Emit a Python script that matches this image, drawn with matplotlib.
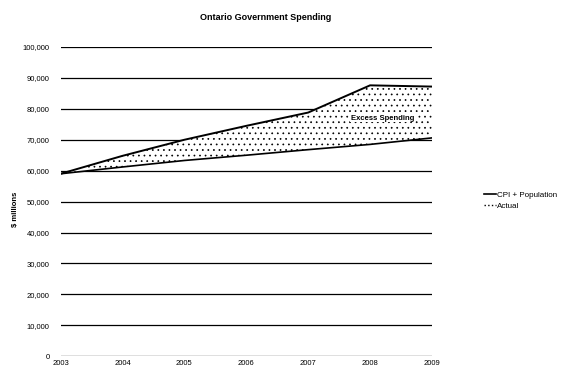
import matplotlib
matplotlib.use('Agg')
import matplotlib.pyplot as plt
from matplotlib.lines import Line2D

years = [2003, 2004, 2005, 2006, 2007, 2008, 2009]
actual = [59000, 64800, 70000, 74500, 78800, 87600, 87200]
cpi_pop = [59000, 61200, 63300, 65000, 66800, 68500, 70600]
yticks = list(range(0, 100001, 10000))

plt.rcParams['font.family'] = ['Liberation Sans', 'DejaVu Sans']
plt.rcParams['hatch.linewidth'] = 0.5

fig = plt.figure(figsize=(5.61, 3.73), dpi=100)
ax = fig.add_axes([0.108, 0.045, 0.662, 0.829])

for y in yticks:
    ax.axhline(y, color='black', lw=0.9, zorder=1)

# dotted band between the two series
ax.fill_between(years, cpi_pop, actual, facecolor='white', edgecolor='black',
                hatch='...', lw=0, zorder=2)
ax.plot(years, actual, color='black', lw=1.4, zorder=3)
ax.plot(years, cpi_pop, color='black', lw=1.2, zorder=3)

ax.text(2008.2, 77000, 'Excess Spending', fontsize=5.5, fontweight='bold',
        ha='center', va='center', zorder=4,
        bbox=dict(facecolor='white', edgecolor='none', pad=0.3))

ax.set_xlim(2003, 2009)
ax.set_ylim(0, 100000)
ax.set_xticks(years)
ax.set_xticklabels([str(y) for y in years], fontsize=5.5)
ax.set_yticks(yticks)
ax.set_yticklabels(['{:,}'.format(v) for v in yticks], fontsize=5.5)
ax.tick_params(length=0, pad=8)
ax.tick_params(axis='x', pad=3)
for s in ax.spines.values():
    s.set_visible(False)

fig.text(0.027, 0.44, '$ millions', fontsize=5.5, fontweight='bold',
         rotation=90, ha='center', va='center')
fig.suptitle('Ontario Government Spending', fontsize=6.5, fontweight='bold',
             x=0.474, y=0.965)

handles = [Line2D([], [], color='black', lw=1.2),
           Line2D([], [], color='black', lw=1.0, ls=':')]
fig.legend(handles, ['CPI + Population', 'Actual'], loc='center left',
           bbox_to_anchor=(0.855, 0.462), frameon=False, fontsize=5.8,
           handlelength=1.5, handletextpad=0.15, labelspacing=0.4,
           borderpad=0)

plt.savefig('out.png', dpi=100)
